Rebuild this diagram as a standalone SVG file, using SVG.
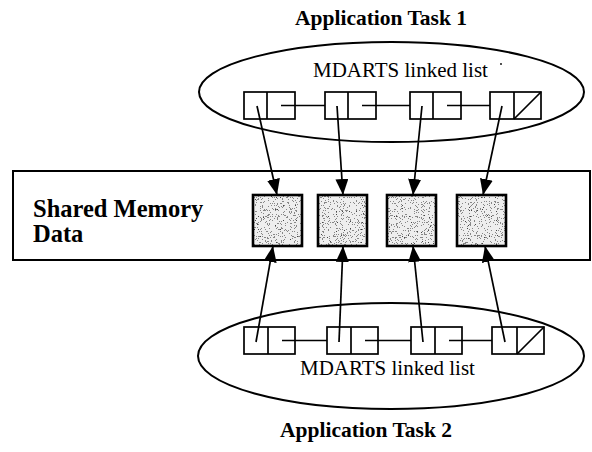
<svg xmlns="http://www.w3.org/2000/svg" width="592" height="452" viewBox="0 0 592 452">
  <defs>
    <style>
      .title { font-family: "Liberation Serif", "Times New Roman", serif; font-weight: bold; font-size: 21.5px; fill: #000; }
      .region { font-family: "Liberation Serif", "Times New Roman", serif; font-weight: bold; font-size: 24.5px; fill: #000; }
      .caption { font-family: "Liberation Serif", "Times New Roman", serif; font-size: 21px; fill: #000; }
      .outline { fill: none; stroke: #000; stroke-width: 2; }
      .cell { fill: #fff; stroke: #000; stroke-width: 1.7; }
      .div { stroke: #000; stroke-width: 1.7; }
      .link { stroke: #000; stroke-width: 1.6; fill: none; }
      .ptr { stroke: #000; stroke-width: 1.7; fill: none; marker-end: url(#head); }
      .data { fill: #eeeeee; filter: url(#grain); }
      .dataEdge { fill: none; stroke: #000; stroke-width: 2.6; }
    </style>
    <marker id="head" markerUnits="userSpaceOnUse" markerWidth="17" markerHeight="14" refX="16" refY="6.5" orient="auto">
      <path d="M0,0 L16,6.5 L0,13 Z" fill="#000"/>
    </marker>
    <!-- stippled grey fill for the shared data blocks -->
    <filter id="grain" x="0" y="0" width="1" height="1" color-interpolation-filters="sRGB">
      <feTurbulence type="fractalNoise" baseFrequency="0.85" numOctaves="2" seed="7" result="noise"/>
      <feColorMatrix in="noise" type="matrix" values="0 0 0 0 0  0 0 0 0 0  0 0 0 0 0  1 0 0 0 0" result="a"/>
      <feComponentTransfer in="a" result="dots">
        <feFuncA type="discrete" tableValues="0 0 0 0 0 0.55 0.9 1"/>
      </feComponentTransfer>
      <feFlood flood-color="#333" result="ink"/>
      <feComposite in="ink" in2="dots" operator="in" result="inkDots"/>
      <feComposite in="inkDots" in2="SourceAlpha" operator="in" result="clipped"/>
      <feMerge>
        <feMergeNode in="SourceGraphic"/>
        <feMergeNode in="clipped"/>
      </feMerge>
    </filter>
  </defs>

  <rect width="592" height="452" fill="#fff"/>

  <!-- titles -->
  <text class="title" x="295" y="25">Application Task 1</text>
  <text class="title" x="280" y="437">Application Task 2</text>

  <!-- shared memory region -->
  <g id="shared-memory">
    <rect class="outline" x="13" y="171" width="577" height="89"/>
    <text class="region" x="33" y="217">Shared Memory</text>
    <text class="region" x="33" y="242">Data</text>
  </g>

  <!-- task 1 list container -->
  <g id="task1-list">
    <ellipse class="outline" cx="391.5" cy="92" rx="192.5" ry="50"/>
    <text class="caption" x="313" y="77">MDARTS linked list</text>
    <circle cx="501" cy="64" r="0.9" fill="#000"/>
  </g>

  <!-- task 2 list container -->
  <g id="task2-list">
    <ellipse class="outline" cx="391" cy="356" rx="193" ry="53"/>
    <text class="caption" x="300" y="375">MDARTS linked list</text>
  </g>

  <!-- shared data blocks -->
  <g id="data1"><rect class="data" x="253" y="195" width="49" height="51"/><rect class="dataEdge" x="253" y="195" width="49" height="51"/></g>
  <g id="data2"><rect class="data" x="318" y="195" width="49" height="51"/><rect class="dataEdge" x="318" y="195" width="49" height="51"/></g>
  <g id="data3"><rect class="data" x="387" y="195" width="49" height="51"/><rect class="dataEdge" x="387" y="195" width="49" height="51"/></g>
  <g id="data4"><rect class="data" x="457" y="195" width="49" height="51"/><rect class="dataEdge" x="457" y="195" width="49" height="51"/></g>

  <!-- task 1 list nodes -->
  <g id="t1n1"><rect class="cell" x="244" y="92" width="51" height="27"/><line class="div" x1="267" y1="92" x2="267" y2="119"/></g>
  <g id="t1n2"><rect class="cell" x="325" y="92" width="51" height="27"/><line class="div" x1="348" y1="92" x2="348" y2="119"/></g>
  <g id="t1n3"><rect class="cell" x="410" y="92" width="51" height="27"/><line class="div" x1="433" y1="92" x2="433" y2="119"/></g>
  <g id="t1n4"><rect class="cell" x="490" y="92" width="51" height="27"/><line class="div" x1="514" y1="92" x2="514" y2="119"/><line class="div" x1="514" y1="119" x2="541" y2="92"/></g>

  <!-- task 2 list nodes -->
  <g id="t2n1"><rect class="cell" x="244" y="327" width="51" height="27"/><line class="div" x1="268" y1="327" x2="268" y2="354"/></g>
  <g id="t2n2"><rect class="cell" x="327" y="327" width="51" height="27"/><line class="div" x1="351" y1="327" x2="351" y2="354"/></g>
  <g id="t2n3"><rect class="cell" x="411" y="327" width="51" height="27"/><line class="div" x1="435" y1="327" x2="435" y2="354"/></g>
  <g id="t2n4"><rect class="cell" x="492" y="327" width="52" height="27"/><line class="div" x1="517" y1="327" x2="517" y2="354"/><line class="div" x1="517" y1="354" x2="544" y2="327"/></g>

  <g id="connectors">
    <!-- next-pointers, task 1 -->
    <line class="link" x1="281" y1="105.5" x2="325" y2="105.5"/>
    <line class="link" x1="362" y1="105.5" x2="410" y2="105.5"/>
    <line class="link" x1="447" y1="105.5" x2="490" y2="105.5"/>
    <!-- next-pointers, task 2 -->
    <line class="link" x1="282" y1="340.5" x2="327" y2="340.5"/>
    <line class="link" x1="365" y1="340.5" x2="411" y2="340.5"/>
    <line class="link" x1="449" y1="340.5" x2="492" y2="340.5"/>
    <!-- data pointers, task 1 -->
    <line class="ptr" x1="257" y1="106" x2="277" y2="195"/>
    <line class="ptr" x1="337" y1="106" x2="343" y2="195"/>
    <line class="ptr" x1="422" y1="106" x2="413" y2="195"/>
    <line class="ptr" x1="502" y1="106" x2="483" y2="195"/>
    <!-- data pointers, task 2 -->
    <line class="ptr" x1="256" y1="342" x2="273" y2="246"/>
    <line class="ptr" x1="339" y1="342" x2="343" y2="246"/>
    <line class="ptr" x1="423" y1="342" x2="413" y2="246"/>
    <line class="ptr" x1="505" y1="342" x2="485" y2="246"/>
  </g>
</svg>
